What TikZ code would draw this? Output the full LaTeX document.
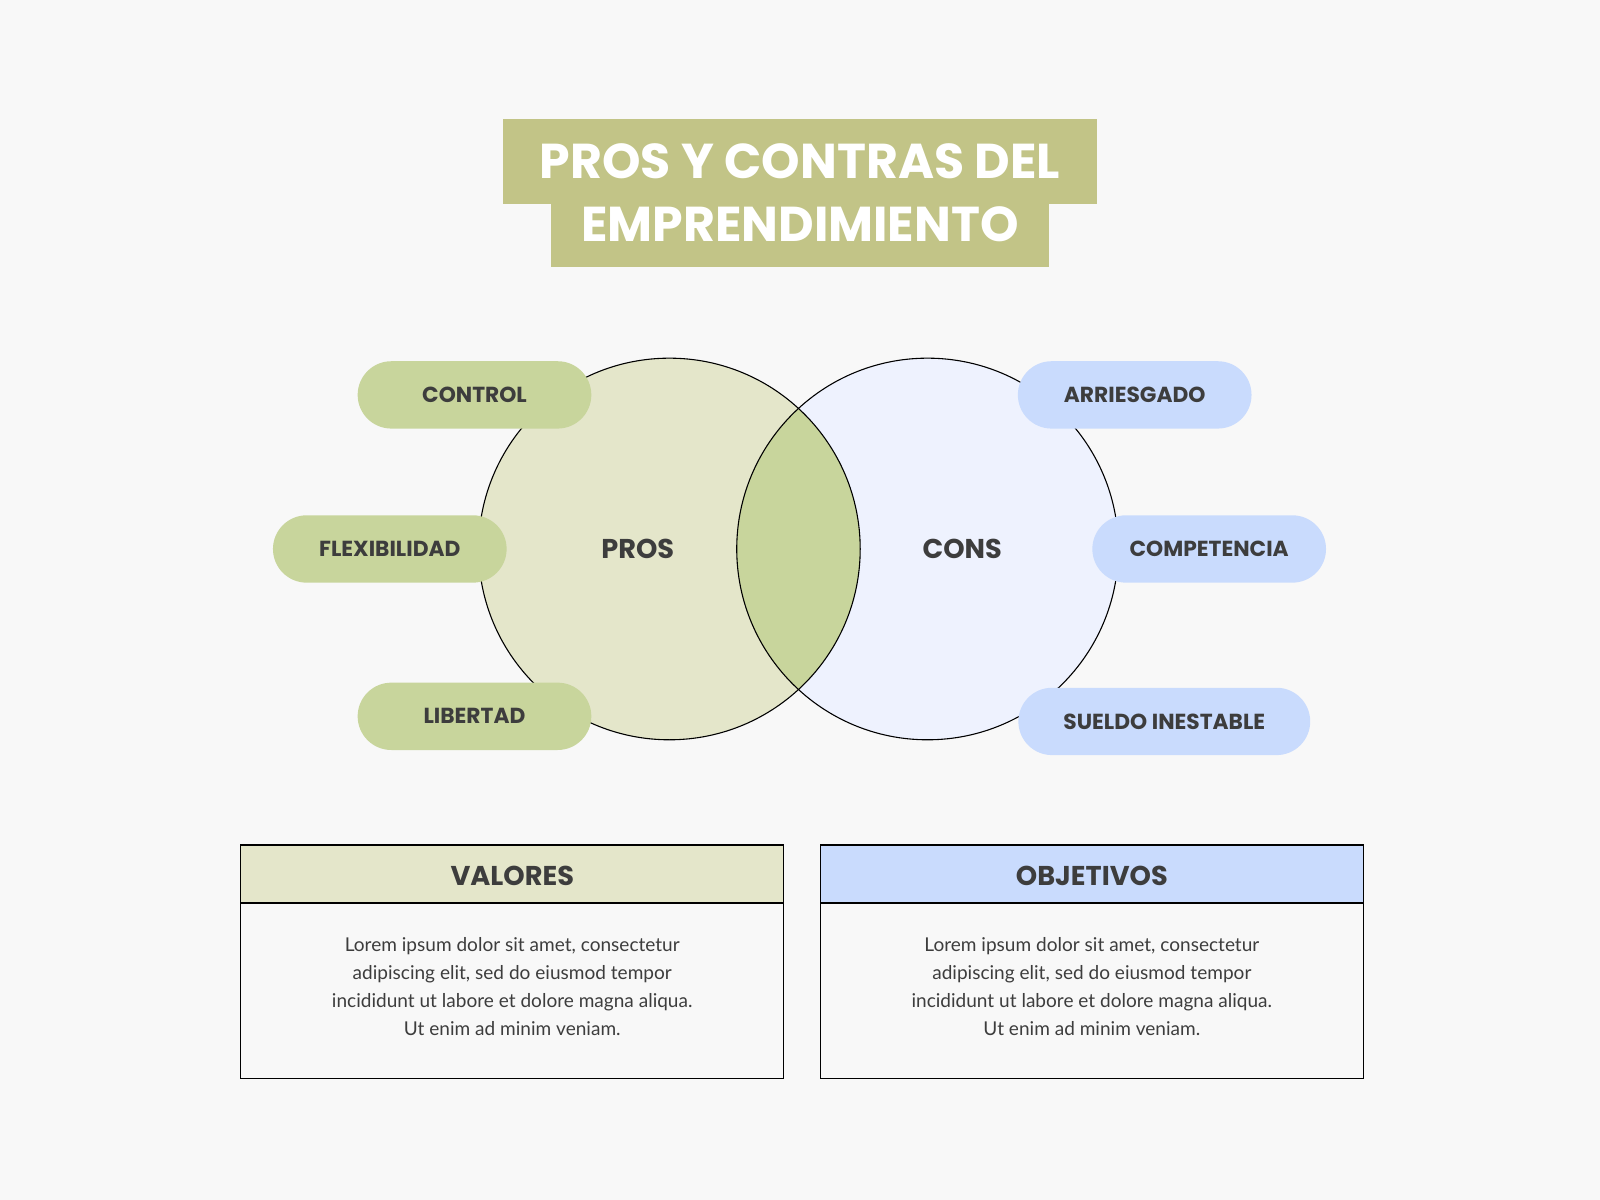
\documentclass[tikz,border=0pt]{standalone}
\usepackage{fontspec}
\setmainfont{Poppins}
\newfontfamily\bodyfont{Lato}
\definecolor{bg}{HTML}{F8F8F8}
\definecolor{olive}{HTML}{C2C487}
\definecolor{lgreen}{HTML}{E4E6CA}
\definecolor{mgreen}{HTML}{C8D59C}
\definecolor{lblue}{HTML}{EEF2FE}
\definecolor{mblue}{HTML}{C9DBFD}
\definecolor{txt}{HTML}{3D3D3D}
\begin{document}
\begin{tikzpicture}[x=0.75pt,y=-0.75pt,
  pill/.style={rounded corners=33*0.75pt, minimum width=229*0.75pt, minimum height=66*0.75pt, inner sep=0pt, text=txt, font=\fontsize{16}{18}\selectfont\bfseries},
  gp/.style={pill, fill=mgreen}, bp/.style={pill, fill=mblue},
  hdr/.style={text=txt, font=\fontsize{20}{24}\selectfont\bfseries},
  body/.style={text=txt, align=center, font=\bodyfont\fontsize{14}{20.6}\selectfont}]
\fill[bg] (0,0) rectangle (1568,1176);
\useasboundingbox (0,0) rectangle (1568,1176);
\fill[olive] (493,117) rectangle (1075,200);
\fill[olive] (540,200) rectangle (1028,262);
\node[text=white, font=\fontsize{36}{40}\selectfont\bfseries] (t1) at (784,158) {PROS Y CONTRAS DEL};
\node[text=white, font=\fontsize{36}{40}\selectfont\bfseries] (t2) at (784,220) {EMPRENDIMIENTO};
\fill[lgreen] (656,538) circle (187);
\fill[lblue] (909,538) circle (187);
\begin{scope}
\clip (656,538) circle (187);
\fill[mgreen] (909,538) circle (187);
\end{scope}
\draw[black, line width=0.8pt] (656,538) circle (187);
\draw[black, line width=0.8pt] (909,538) circle (187);
\node[font=\fontsize{20}{24}\selectfont\bfseries, text=txt] (pros) at (625,538) {PROS};
\node[font=\fontsize{20}{24}\selectfont\bfseries, text=txt] (cons) at (943,538) {CONS};
\node[gp] (c1) at (465,387) {CONTROL};
\node[gp] (c2) at (382,538) {FLEXIBILIDAD};
\node[gp] (c3) at (465,702) {LIBERTAD};
\node[bp] (d1) at (1112,387) {ARRIESGADO};
\node[bp] (d2) at (1185,538) {COMPETENCIA};
\node[bp, minimum width=286*0.75pt] (d3) at (1141,707) {SUELDO INESTABLE};
\fill[lgreen] (236,828) rectangle (768,885);
\fill[mblue] (804,828) rectangle (1336,885);
\draw[black, line width=1pt] (236,828) rectangle (768,1057) (236,885) -- (768,885);
\draw[black, line width=1pt] (804,828) rectangle (1336,1057) (804,885) -- (1336,885);
\node[hdr] (h1) at (502,858) {VALORES};
\node[hdr] (h2) at (1070,858) {OBJETIVOS};
\node[body] (b1) at (502,967) {Lorem ipsum dolor sit amet, consectetur\\adipiscing elit, sed do eiusmod tempor\\incididunt ut labore et dolore magna aliqua.\\Ut enim ad minim veniam.};
\node[body] (b2) at (1070,967) {Lorem ipsum dolor sit amet, consectetur\\adipiscing elit, sed do eiusmod tempor\\incididunt ut labore et dolore magna aliqua.\\Ut enim ad minim veniam.};
\end{tikzpicture}
\end{document}
